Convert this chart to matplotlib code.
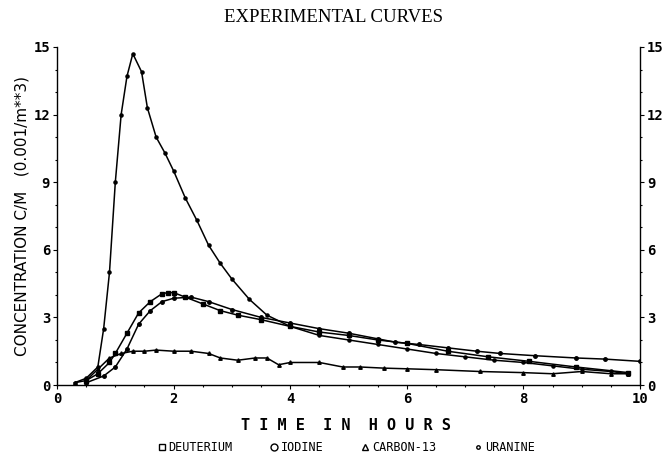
import numpy as np
from matplotlib import pyplot as plt
from matplotlib.ticker import MultipleLocator

# uranine: sharp early peak
uranine_t = [0.3, 0.5, 0.7, 0.8, 0.9, 1.0, 1.1, 1.2, 1.3, 1.45, 1.55, 1.7, 1.85, 2.0, 2.2, 2.4,
             2.6, 2.8, 3.0, 3.3, 3.6, 4.0, 4.5, 5.0, 5.5, 6.0, 6.5, 7.0, 7.5, 8.0, 8.5, 9.0, 9.5, 9.8]
uranine_c = [0.1, 0.3, 0.8, 2.5, 5.0, 9.0, 12.0, 13.7, 14.7, 13.9, 12.3, 11.0, 10.3, 9.5, 8.3, 7.3,
             6.2, 5.4, 4.7, 3.8, 3.1, 2.6, 2.2, 2.0, 1.8, 1.6, 1.4, 1.25, 1.1, 1.0, 0.85, 0.7, 0.6, 0.5]

# deuterium
deut_t = [0.5, 0.7, 0.9, 1.0, 1.2, 1.4, 1.6, 1.8, 1.9, 2.0, 2.2, 2.5, 2.8, 3.1, 3.5, 4.0, 4.5,
          5.0, 5.5, 6.0, 6.7, 7.4, 8.1, 8.9, 9.8]
deut_c = [0.2, 0.5, 1.0, 1.4, 2.3, 3.2, 3.7, 4.05, 4.1, 4.1, 3.9, 3.6, 3.3, 3.1, 2.9, 2.6, 2.35,
          2.2, 2.0, 1.85, 1.5, 1.25, 1.05, 0.8, 0.55]

# iodine
iod_t = [0.5, 0.8, 1.0, 1.2, 1.4, 1.6, 1.8, 2.0, 2.3, 2.6, 3.0, 3.5, 4.0, 4.5, 5.0, 5.5, 5.8,
         6.2, 6.7, 7.2, 7.6, 8.2, 8.9, 9.4, 10.0]
iod_c = [0.1, 0.4, 0.8, 1.6, 2.7, 3.3, 3.7, 3.85, 3.9, 3.7, 3.35, 3.0, 2.75, 2.5, 2.3, 2.05, 1.9,
         1.8, 1.65, 1.5, 1.4, 1.3, 1.2, 1.15, 1.05]

# carbon-13: low and flat
carb_t = [0.3, 0.5, 0.7, 0.9, 1.1, 1.3, 1.5, 1.7, 2.0, 2.3, 2.6, 2.8, 3.1, 3.4, 3.6, 3.8, 4.0,
          4.5, 4.9, 5.2, 5.6, 6.0, 6.5, 7.25, 8.0, 8.5, 9.0, 9.5, 9.8]
carb_c = [0.1, 0.2, 0.7, 1.2, 1.4, 1.5, 1.5, 1.55, 1.5, 1.5, 1.4, 1.2, 1.1, 1.2, 1.2, 0.9, 1.0,
          1.0, 0.8, 0.8, 0.75, 0.72, 0.68, 0.6, 0.55, 0.5, 0.6, 0.5, 0.5]

series = [
    ("DEUTERIUM", deut_t, deut_c, 's'),
    ("IODINE", iod_t, iod_c, 'o'),
    ("CARBON-13", carb_t, carb_c, '^'),
    ("URANINE", uranine_t, uranine_c, '.'),
]

mono = {'family': 'DejaVu Sans Mono', 'weight': 'bold'}

fig = plt.figure(figsize=(6.66, 4.65), dpi=100)
ax = fig.add_axes([0.0856, 0.172, 0.8755, 0.727])

for name, t, c, m in series:
    ax.plot(t, c, color='black', lw=1.1, marker=m, ms=2.5 if m != '.' else 4.5,
            markerfacecolor='black', label=name)

ax.set_xlim(0, 10)
ax.set_ylim(0, 15)
ax.spines['top'].set_visible(False)
ax.xaxis.set_major_locator(MultipleLocator(2))
ax.xaxis.set_minor_locator(MultipleLocator(0.5))
ax.yaxis.set_major_locator(MultipleLocator(3))
ax.yaxis.set_minor_locator(MultipleLocator(1))
ax.tick_params(which='both', direction='out', length=3, width=0.8, labelsize=10,
               right=True, labelright=True, pad=2)
ax.tick_params(which='minor', length=1.5)
for lbl in ax.get_xticklabels() + ax.get_yticklabels():
    lbl.set_fontproperties(mono)
    lbl.set_fontsize(10)
for spine in ax.spines.values():
    spine.set_linewidth(1.0)

ax.set_ylabel("CONCENTRATION C/M   (0.001/m**3)", fontsize=11, family='DejaVu Sans', labelpad=3)
fig.text(0.5, 0.963, "EXPERIMENTAL CURVES", ha='center', va='center',
         family='Liberation Serif', fontsize=13.5)
fig.text(0.52, 0.085, "T I M E  I N  H O U R S", ha='center', va='center',
         family='DejaVu Sans Mono', weight='bold', fontsize=11)

leg = fig.legend(loc='center', bbox_to_anchor=(0.52, 0.038), ncol=4, frameon=False,
                 handlelength=0.6, handletextpad=0.3, columnspacing=3.2,
                 prop={'family': 'DejaVu Sans Mono', 'size': 8.5})
for h in leg.legend_handles:
    h.set_linestyle('none')
    h.set_markerfacecolor('none')
    h.set_markersize(5)

fig.savefig('out.png', dpi=100)
